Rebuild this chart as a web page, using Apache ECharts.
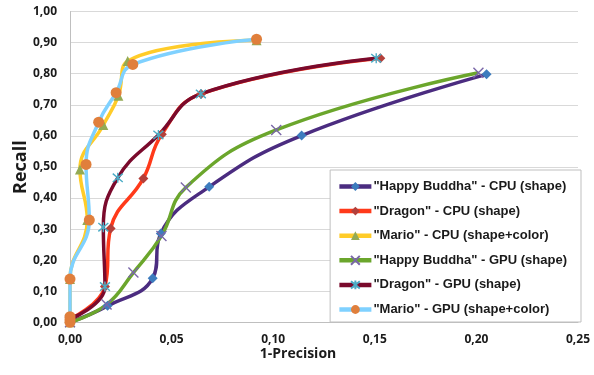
<!DOCTYPE html>
<html>
<head>
<meta charset="utf-8">
<script src="https://cdn.jsdelivr.net/npm/echarts@6/dist/echarts.min.js"></script>
<style>
html,body{margin:0;padding:0;background:#fff;}
#c{width:594px;height:375px;}
</style>
</head>
<body>
<div id="c"></div>
<script>
// ---- data ----
const seriesNames = [
  '"Happy Buddha" - CPU (shape)',
  '"Dragon" - CPU (shape)',
  '"Mario" - CPU (shape+color)',
  '"Happy Buddha" - GPU (shape)',
  '"Dragon" - GPU (shape)',
  '"Mario" - GPU (shape+color)'
];
const hbCpuX = [0, 0.0185, 0.0407, 0.0447, 0.0685, 0.114, 0.205];
const hbCpuY = [0, 0.053, 0.142, 0.286, 0.436, 0.601, 0.798];
const drCpuX = [0, 0.0172, 0.020, 0.0361, 0.0452, 0.0645, 0.1527];
const drCpuY = [0.01, 0.115, 0.302, 0.463, 0.605, 0.735, 0.850];
const maCpuX = [0, 0, 0.0085, 0.0049, 0.0164, 0.0238, 0.0284, 0.0918];
const maCpuY = [0, 0.139, 0.329, 0.492, 0.635, 0.729, 0.841, 0.908];
const hbGpuX = [0, 0.018, 0.0312, 0.045, 0.057, 0.1015, 0.201];
const hbGpuY = [0, 0.057, 0.160, 0.278, 0.434, 0.619, 0.803];
const drGpuX = [0, 0.0172, 0.0164, 0.0235, 0.0435, 0.0644, 0.1507];
const drGpuY = [0.01, 0.115, 0.306, 0.465, 0.603, 0.735, 0.850];
const maGpuX = [0, 0, 0, 0, 0.0095, 0.0079, 0.0141, 0.0227, 0.0309, 0.0918];
const maGpuY = [0, 0.008, 0.018, 0.139, 0.329, 0.508, 0.644, 0.739, 0.830, 0.911];
const xTicks = [0, 0.05, 0.10, 0.15, 0.20, 0.25];
const yTicks = [0, 0.1, 0.2, 0.3, 0.4, 0.5, 0.6, 0.7, 0.8, 0.9, 1.0];

function pairs(xs, ys){ return xs.map((x,i)=>[x, ys[i]]); }
const fmt = v => v.toFixed(2).replace('.', ',');
const FONT = 'Open Sans';
const LFONT = 'Liberation Sans';

const xPath = 'path://M0,0 L10,10 M10,0 L0,10';
const starPath = 'path://M0,0 L10,10 M10,0 L0,10 M5,-1 L5,11';

function mk(name, data, lineColor, markColor, symbol, size, border){
  return {
    name: name, type: 'line', data: data,
    smooth: 0.45,
    lineStyle: {color: lineColor, width: 3.5},
    symbol: symbol, symbolSize: size,
    itemStyle: {color: border ? 'rgba(0,0,0,0)' : markColor, borderColor: markColor, borderWidth: border ? 1.4 : 0},
    emphasis: {disabled: true},
    animation: false
  };
}

const chart = echarts.init(document.getElementById('c'));
chart.setOption({
  animation: false,
  textStyle: {fontFamily: FONT},
  grid: {left: 70, right: 16, top: 11.6, bottom: 52.7},
  xAxis: {
    type: 'value', min: 0, max: xTicks[xTicks.length-1], interval: 0.05,
    axisLine: {show: true, lineStyle: {color: '#BFBFBF', width: 1}},
    axisTick: {show: false},
    splitLine: {show: false},
    axisLabel: {formatter: fmt, color: '#1a1a1a', fontWeight: 'bold', fontSize: 12, fontFamily: FONT, margin: 11}
  },
  yAxis: {
    type: 'value', min: 0, max: yTicks[yTicks.length-1], interval: 0.1,
    axisLine: {show: true, lineStyle: {color: '#BFBFBF', width: 1}},
    axisTick: {show: false},
    splitLine: {show: true, lineStyle: {color: '#D9D9D9', width: 1}},
    axisLabel: {formatter: fmt, color: '#1a1a1a', fontWeight: 'bold', fontSize: 12, fontFamily: FONT, margin: 13}
  },
  legend: {
    orient: 'vertical', right: 13, top: 170,
    backgroundColor: '#fff', borderColor: '#BFBFBF', borderWidth: 1, borderRadius: 0,
    padding: [10, 14, 6, 7],
    itemWidth: 32, itemHeight: 11, itemGap: 11.6,
    lineStyle: {width: 4.5},
    textStyle: {fontFamily: LFONT, fontWeight: 'bold', fontSize: 13, lineHeight: 13, color: '#1a1a1a', padding: [0,0,0,-3]},
    data: seriesNames
  },
  graphic: [
    {type: 'text', x: 298, y: 347, style: {text: '1-Precision', font: 'bold 14px ' + FONT, fill: '#1a1a1a', textAlign: 'center'}},
    {type: 'text', rotation: Math.PI/2, x: 12, y: 194, style: {text: 'Recall', font: 'bold 18px ' + FONT, fill: '#1a1a1a'}}
  ],
  series: [
    mk(seriesNames[0], pairs(hbCpuX, hbCpuY), '#4B2C80', '#3D7CBE', 'diamond', 10, false),
    mk(seriesNames[1], pairs(drCpuX, drCpuY), '#FF3A1A', '#B3403B', 'diamond', 10, false),
    mk(seriesNames[2], pairs(maCpuX, maCpuY), '#FFCC29', '#93AA55', 'triangle', 10, false),
    mk(seriesNames[3], pairs(hbGpuX, hbGpuY), '#6BA62C', '#7A67A8', xPath, 10, true),
    mk(seriesNames[4], pairs(drGpuX, drGpuY), '#7A0A2C', '#4BACC6', starPath, 10, true),
    mk(seriesNames[5], pairs(maGpuX, maGpuY), '#7FD1FF', '#E07F3C', 'circle', 11, false)
  ]
});
</script>
</body>
</html>
